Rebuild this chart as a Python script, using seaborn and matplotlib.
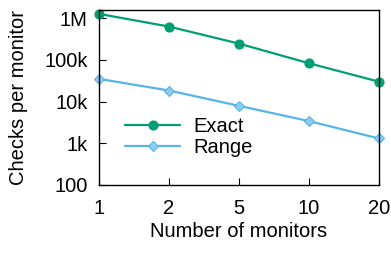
import matplotlib
matplotlib.use("Agg")
import matplotlib.pyplot as plt
import seaborn as sns
import pandas as pd

monitors = ["1", "2", "5", "10", "20"]
exact = [1270000, 630000, 246000, 83000, 30000]
rng = [35000, 18400, 7900, 3400, 1300]
ytick_vals = [100, 1000, 10000, 100000, 1000000]
ytick_labels = ["100", "1k", "10k", "100k", "1M"]

sns.set_theme(style="ticks")
plt.rcParams['font.family'] = ['Liberation Sans', 'DejaVu Sans']
plt.rcParams['text.color'] = 'black'
plt.rcParams['axes.labelcolor'] = 'black'

FS = 14.5
pos = list(range(len(monitors)))
df = pd.DataFrame({
    "pos": pos * 2,
    "value": exact + rng,
    "series": ["Exact"] * len(pos) + ["Range"] * len(pos),
})

fig = plt.figure(figsize=(3.91, 2.54), dpi=100)
ax = fig.add_axes([0.253, 0.272, 0.716, 0.689])

palette = {"Exact": "#009E73", "Range": "#56B4E9"}
sns.lineplot(data=df, x="pos", y="value", hue="series", style="series",
             markers={"Exact": "o", "Range": "D"}, dashes=False,
             palette=palette, linewidth=1.6, markersize=6.5,
             markeredgewidth=0.8, ax=ax, clip_on=False)


def style_line(ln):
    c = ln.get_color()
    ln.set_markeredgecolor(c)
    if ln.get_marker() == "D":
        ln.set_markerfacecolor("#8ecbf0")
        ln.set_markersize(5.5)
    else:
        ln.set_markerfacecolor(c)


for ln in ax.lines:
    style_line(ln)

ax.set_yscale("log")
ax.set_ylim(100, 1.58e6)
ax.set_xlim(0, len(monitors) - 1)
ax.set_xticks(pos)
ax.set_xticklabels(monitors)
ax.set_yticks(ytick_vals)
ax.set_yticklabels(ytick_labels)
ax.minorticks_off()
ax.tick_params(direction="in", length=5, width=0.8, labelsize=FS,
               top=False, right=False, colors="black")
ax.tick_params(axis="x", pad=10)
ax.tick_params(axis="y", pad=8)
for s in ax.spines.values():
    s.set_visible(True)
    s.set_color("black")
    s.set_linewidth(1.0)

ax.set_xlabel("Number of monitors", fontsize=FS, labelpad=3)
ax.set_ylabel("Checks per monitor", fontsize=FS, labelpad=12)

leg = ax.legend(loc="lower left", bbox_to_anchor=(0.093, 0.16), frameon=False,
                fontsize=FS, handlelength=2.75, handletextpad=0.65,
                labelspacing=0.1, borderaxespad=0, borderpad=0)
for h in leg.legend_handles:
    style_line(h)

fig.savefig("out.png", dpi=100)
